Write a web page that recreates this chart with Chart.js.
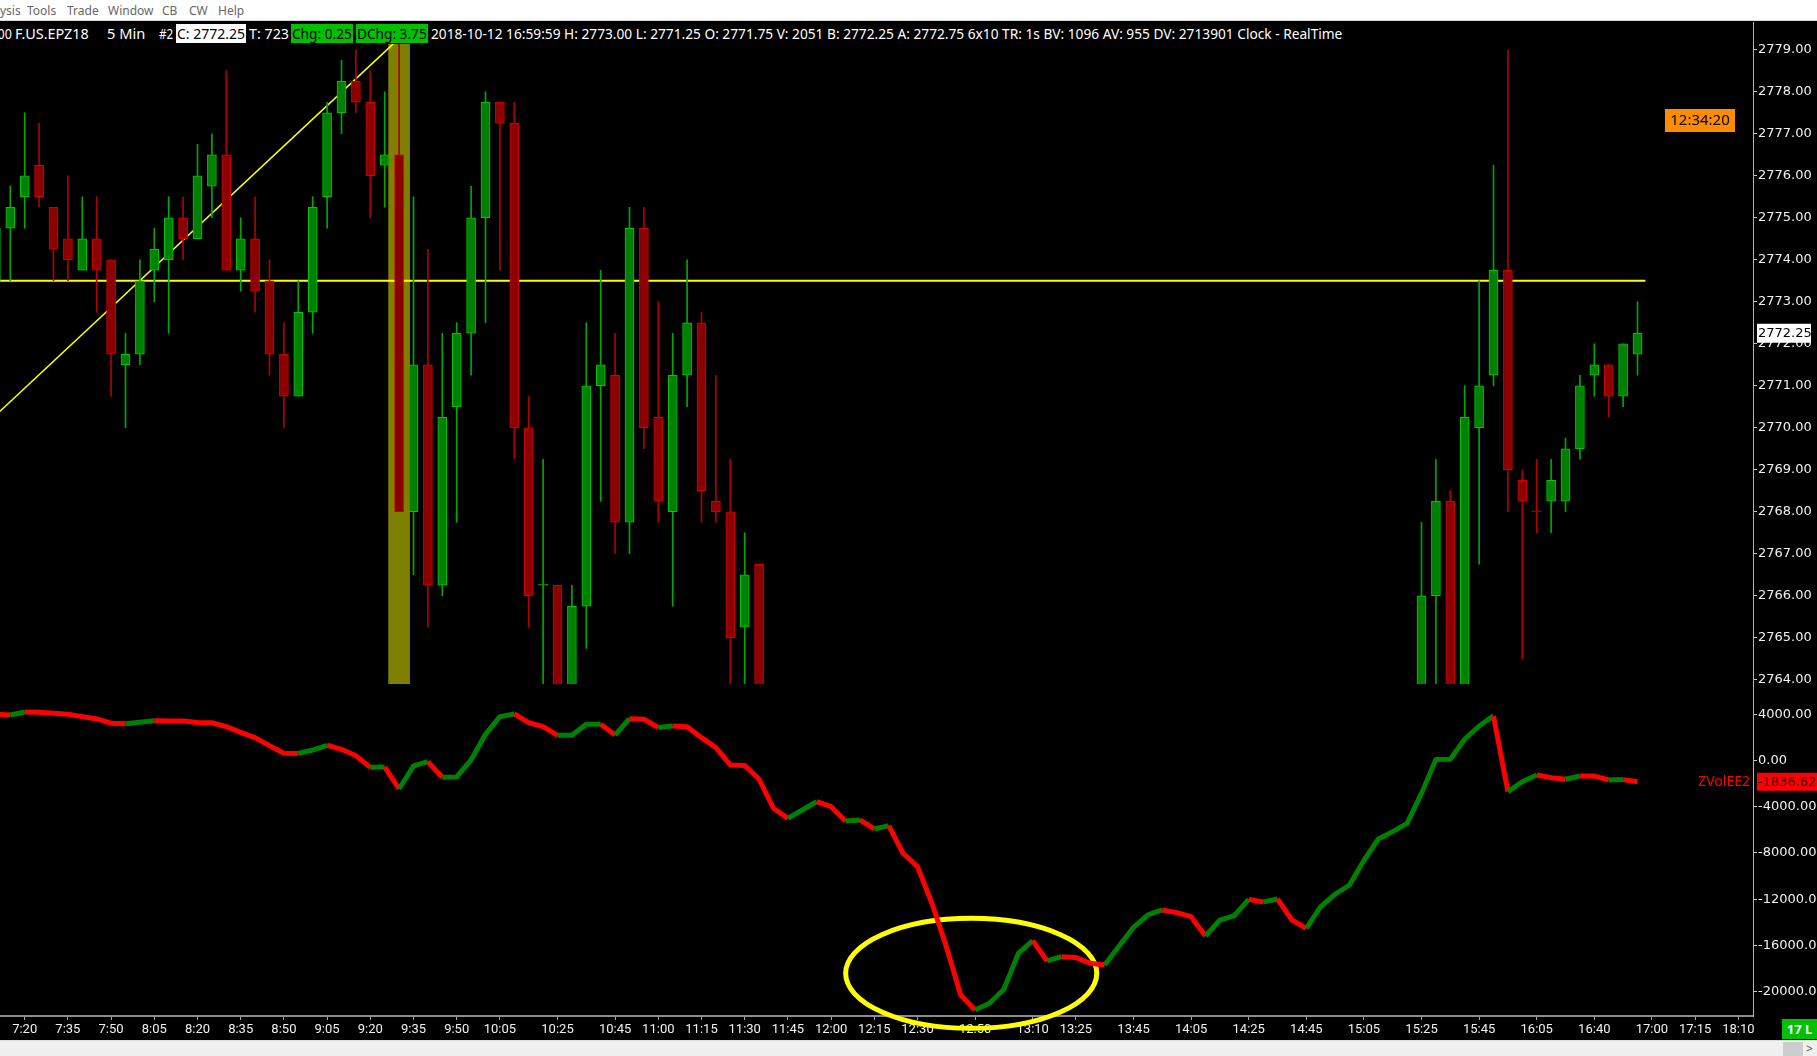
<!DOCTYPE html>
<html>
<head>
<meta charset="utf-8">
<title>F.US.EPZ18 5 Min</title>
<script src="https://cdn.jsdelivr.net/npm/chart.js@4.4.1/dist/chart.umd.min.js"></script>
<style>
  body { margin: 0; background: #000; width: 1817px; height: 1056px; overflow: hidden; position: relative; font-family: "Noto Sans", sans-serif; }
  #menu { position: absolute; left: 0; top: 0; width: 1817px; height: 20px; background: #fff; border-bottom: 1px solid #d6d6d6; }
  #menu span { position: absolute; top: 2px; font-size: 12px; color: #666; }
  #header { position: absolute; left: 0; top: 22px; width: 1753px; height: 22px; background: #000; z-index: 2; color: #fff; font-size: 15px; }
  #header span { position: absolute; top: 2px; height: 19px; line-height: 19px; white-space: nowrap; transform-origin: left center; }
  #header .box-w { background: #fff; color: #000; }
  #header .box-g { background: #00c000; color: #000; }
  canvas { position: absolute; left: 0; }
  #priceCanvas { top: 22px; }
  #indCanvas { top: 684px; }
  #bottom { position: absolute; left: 0; top: 1040px; width: 1817px; height: 16px; background: #f0f0f0; border-top: 1px solid #dcdcdc; }
  #thumb { position: absolute; left: 1783px; top: 1px; width: 20px; height: 14px; background: #cdcdcd; }
  #arrow { position: absolute; left: 1806px; top: -1px; font-size: 12px; color: #555; }
  #bars { position: absolute; left: 1782px; top: 1019px; width: 35px; height: 20px; background: #00c000; color: #fff; font: bold 13px "Noto Sans", sans-serif; line-height: 20px; text-align: center; z-index: 3; }
</style>
</head>
<body>
<div id="menu">
  <span style="left:0">ysis</span>
  <span style="left:27px">Tools</span>
  <span style="left:67px">Trade</span>
  <span style="left:108px">Window</span>
  <span style="left:162px">CB</span>
  <span style="left:189px">CW</span>
  <span style="left:218px">Help</span>
</div>
<div id="header">
  <span data-w="25" style="left:-13px">5.00</span>
  <span data-w="74" style="left:15px">F.US.EPZ18</span>
  <span data-w="38" style="left:107px">5 Min</span>
  <span data-w="14" style="left:159px">#2</span>
  <span data-w="70" class="box-w" style="left:176px;padding:0 1px">C: 2772.25</span>
  <span data-w="40" style="left:249px">T: 723</span>
  <span data-w="62" class="box-g" style="left:291px;padding:0 1px">Chg: 0.25</span>
  <span data-w="72" class="box-g" style="left:356px;padding:0 1px">DChg: 3.75</span>
  <span data-w="911" style="left:431px">2018-10-12 16:59:59 H: 2773.00 L: 2771.25 O: 2771.75 V: 2051 B: 2772.25 A: 2772.75 6x10 TR: 1s BV: 1096 AV: 955 DV: 2713901 Clock - RealTime</span>
</div>
<canvas id="priceCanvas" width="1817" height="662"></canvas>
<canvas id="indCanvas" width="1817" height="356"></canvas>
<div id="bars">17 L</div>
<div id="bottom"><div id="thumb"></div><div id="arrow">&gt;</div></div>

<script>
// 5 minute bars, first entry is bar -2 (07:10); bar 0 is 07:20
const firstBar = -2;

const opens = [
  2773.5, 2774.75, 2775.5, 2776.25, 2775.25, 2774.5, 2773.75, 2774.5, 2774.0, 2771.5,
  2771.75, 2773.75, 2774.0, 2775.0, 2774.5, 2775.75, 2776.5, 2773.75, 2774.5, 2773.5,
  2771.75, 2770.75, 2772.75, 2775.5, 2777.5, 2778.25, 2777.75, 2776.25, 2776.5, 2768.0,
  2771.5, 2766.25, 2770.5, 2772.25, 2775.0, 2777.75, 2777.25, 2770.0, 2766.25, 2766.25,
  2763.0, 2765.75, 2771.0, 2771.25, 2767.75, 2774.75, 2770.25, 2768.0, 2771.25, 2772.5,
  2768.25, 2768.0, 2765.25, 2766.75,
  null, null, null, null, null, null, null, null, null, null, null, null, null, null, null,
  null, null, null, null, null, null, null, null, null, null, null, null, null, null, null,
  null, null, null, null, null, null, null, null, null, null, null, null, null, null, null,
  2763.25, 2766.0, 2768.25, 2763.5, 2770.0, 2771.25, 2773.75, 2768.75, 2768.0, 2768.25,
  2768.25, 2769.5, 2771.25, 2771.5, 2770.75, 2771.75
];
const highs = [
  2775.0, 2775.75, 2777.5, 2777.25, 2775.25, 2776.0, 2775.5, 2775.5, 2774.0, 2772.25,
  2774.0, 2774.75, 2775.5, 2775.5, 2776.75, 2777.0, 2778.5, 2775.0, 2775.5, 2774.0,
  2772.5, 2773.5, 2775.5, 2777.75, 2778.75, 2779.0, 2778.5, 2778.0, 2779.25, 2775.5,
  2774.25, 2772.25, 2772.5, 2775.75, 2778.0, 2777.75, 2777.75, 2770.75, 2769.25, 2766.25,
  2766.25, 2772.5, 2773.75, 2772.25, 2775.25, 2775.25, 2773.0, 2772.25, 2774.0, 2772.75,
  2771.25, 2769.25, 2767.5, 2766.75,
  null, null, null, null, null, null, null, null, null, null, null, null, null, null, null,
  null, null, null, null, null, null, null, null, null, null, null, null, null, null, null,
  null, null, null, null, null, null, null, null, null, null, null, null, null, null, null,
  2767.75, 2769.25, 2768.5, 2771.0, 2773.5, 2776.25, 2779.0, 2769.0, 2769.25, 2769.25,
  2769.75, 2771.25, 2772.0, 2771.5, 2772.0, 2773.0
];
const lows = [
  2773.25, 2773.5, 2774.75, 2775.25, 2773.5, 2773.5, 2773.75, 2772.75, 2770.75, 2770.0,
  2771.5, 2773.0, 2772.25, 2774.0, 2774.5, 2775.0, 2773.75, 2773.25, 2772.75, 2771.25,
  2770.0, 2770.75, 2772.25, 2774.75, 2777.0, 2777.5, 2775.0, 2775.25, 2768.0, 2766.5,
  2765.25, 2766.0, 2767.75, 2771.25, 2772.5, 2773.75, 2769.25, 2765.25, 2763.5, 2762.75,
  2762.5, 2764.75, 2768.25, 2767.0, 2767.0, 2769.5, 2767.75, 2765.75, 2770.5, 2767.75,
  2767.75, 2763.75, 2763.75, 2762.5,
  null, null, null, null, null, null, null, null, null, null, null, null, null, null, null,
  null, null, null, null, null, null, null, null, null, null, null, null, null, null, null,
  null, null, null, null, null, null, null, null, null, null, null, null, null, null, null,
  2762.75, 2763.75, 2763.0, 2763.25, 2766.75, 2771.0, 2768.0, 2764.5, 2767.5, 2767.5,
  2768.0, 2769.25, 2770.75, 2770.25, 2770.5, 2771.25
];
const closes = [
  2774.75, 2775.25, 2776.0, 2775.5, 2774.25, 2774.0, 2774.5, 2773.75, 2771.75, 2771.75,
  2773.5, 2774.25, 2775.0, 2774.5, 2776.0, 2776.5, 2773.75, 2774.5, 2773.25, 2771.75,
  2770.75, 2772.75, 2775.25, 2777.5, 2778.25, 2777.75, 2776.0, 2776.5, 2768.0, 2771.5,
  2766.25, 2770.25, 2772.25, 2775.0, 2777.75, 2777.25, 2770.0, 2766.0, 2766.25, 2763.0,
  2765.75, 2771.0, 2771.5, 2767.75, 2774.75, 2770.0, 2768.25, 2771.25, 2772.5, 2768.5,
  2768.0, 2765.0, 2766.5, 2763.0,
  null, null, null, null, null, null, null, null, null, null, null, null, null, null, null,
  null, null, null, null, null, null, null, null, null, null, null, null, null, null, null,
  null, null, null, null, null, null, null, null, null, null, null, null, null, null, null,
  2766.0, 2768.25, 2763.5, 2770.25, 2771.0, 2773.75, 2769.0, 2768.25, 2768.0, 2768.75,
  2769.5, 2771.0, 2771.5, 2770.75, 2772.0, 2772.25
];

// ZVolEE2 indicator, one value per bar
const zvol = [
  4000, 3940, 4200, 4170, 4090, 4000, 3800, 3600, 3230, 3190,
  3310, 3450, 3430, 3420, 3290, 3270, 2930, 2440, 1980, 1290,
  630, 610, 910, 1320, 970, 420, -590, -560, -2460, -470,
  -100, -1450, -1420, 50, 2270, 3800, 4030, 3280, 2930, 2180,
  2190, 3135, 3140, 2210, 3620, 3570, 2850, 2990, 2930, 1980,
  1120, -380, -420, -1620, -4130, -5000, -4280, -3560, -3990, -5230,
  -5140, -5920, -5630, -8030, -9180, -12350, -16100, -20280, -21580, -21000,
  -19790, -16680, -15580, -17340, -16970, -17050, -17540, -17690, -16040, -14430,
  -13360, -12930, -13160, -13510, -15180, -13800, -13420, -12010, -12240, -11980,
  -13800, -14520, -12640, -11570, -10770, -8650, -6790, -6150, -5430, -2840,
  100, 110, 1840, 2990, 3860, -2690, -1830, -1250, -1480, -1620,
  -1340, -1345, -1680, -1650, -1836.62
];

const timeTickIdx = [0, 3, 6, 9, 12, 15, 18, 21, 24, 27, 30, 33, 37, 41, 44, 47, 50, 53, 56, 59,
  62, 66, 70, 73, 77, 81, 85, 89, 93, 97, 101, 105, 109, 113, 116, 119];
const timeTickLabels = ['7:20', '7:35', '7:50', '8:05', '8:20', '8:35', '8:50', '9:05', '9:20', '9:35',
  '9:50', '10:05', '10:25', '10:45', '11:00', '11:15', '11:30', '11:45', '12:00', '12:15',
  '12:30', '12:50', '13:10', '13:25', '13:45', '14:05', '14:25', '14:45', '15:05', '15:25',
  '15:45', '16:05', '16:40', '17:00', '17:15', '18:10'];

const priceTicks = [2779, 2778, 2777, 2776, 2775, 2774, 2773, 2772, 2771, 2770, 2769, 2768, 2767, 2766, 2765, 2764];
const zvolTicks = [4000, 0, -4000, -8000, -12000, -16000, -20000];

// drawings on the chart
const highlightBars = [26];
const levelLine = { from: -2, to: 112.55, price: 2773.5 };
const trendLine = [{ x: -2, y: 2770.30 }, { x: 26, y: 2779.27 }];
const circleNote = { x: 65.73, y: -18410, rxBars: 8.72, ryValue: 4760 };
const countdown = '12:34:20';

// visible ranges
const xMin = -1.715, xMax = 120.02;
const priceMin = 2763.9, priceMax = 2779.66;
const zvolMin = -22103, zvolMax = 6622;

const GREEN_FILL = '#008000', GREEN_EDGE = '#00c800', GREEN_WICK = '#00a800';
const RED_FILL = '#8b0000', RED_EDGE = '#d40000', RED_WICK = '#b00000';

// build candle items
const bodies = [], wicks = [];
opens.forEach((o, k) => {
  if (o === null) return;
  const c = closes[k];
  let up = c > o;
  if (c === o) up = k > 0 && closes[k - 1] !== null ? c >= closes[k - 1] : true;
  const x = firstBar + k;
  bodies.push({ x: x, y: [o, c], up: up });
  wicks.push({ x: x, y: [lows[k], highs[k]], up: up });
});
const lastClose = closes[closes.length - 1];
const lastZvol = zvol[zvol.length - 1];

const axisFont = { family: 'DejaVu Sans', size: 13 };

// no extra room for edge labels, the panels are packed tight
function noPadding(s) {
  s.paddingTop = 0;
  s.paddingBottom = 0;
  s.paddingLeft = 0;
  s.paddingRight = 0;
}

function rightAxis(min, max, tickValues) {
  return {
    position: 'right',
    min: min,
    max: max,
    afterFit: (s) => { s.width = 64; noPadding(s); },
    afterBuildTicks: (s) => { s.ticks = tickValues.map(v => ({ value: v })); },
    ticks: {
      color: '#f0f0f0',
      font: axisFont,
      padding: 1,
      callback: (v) => Number(v).toFixed(2)
    },
    grid: { drawOnChartArea: false, drawTicks: true, tickLength: 4, color: '#c8c8c8' },
    border: { display: true, color: '#b4b4b4', width: 1 }
  };
}

const priceOverlay = {
  id: 'priceOverlay',
  afterDraw(chart) {
    const { ctx, chartArea, scales } = chart;
    const py = scales.y.getPixelForValue(lastClose);
    ctx.save();
    ctx.fillStyle = '#ffffff';
    ctx.fillRect(chartArea.right + 4, py - 9.5, 54, 19);
    ctx.fillStyle = '#000';
    ctx.font = '13px "DejaVu Sans"';
    ctx.textBaseline = 'middle';
    ctx.fillText(lastClose.toFixed(2), chartArea.right + 5, py + 0.5);
    // bar countdown
    ctx.fillStyle = '#ff8c00';
    ctx.fillRect(chartArea.right - 88, 87, 70, 23);
    ctx.fillStyle = '#000';
    ctx.font = '15px "Noto Sans"';
    ctx.textAlign = 'center';
    ctx.fillText(countdown, chartArea.right - 53, 99);
    ctx.restore();
  }
};

new Chart(document.getElementById('priceCanvas'), {
  type: 'bar',
  data: {
    datasets: [
      {
        type: 'bar',
        data: highlightBars.map(x => ({ x: x, y: [priceMin, priceMax] })),
        backgroundColor: '#808000',
        barThickness: 21,
        grouped: false,
        order: 4
      },
      {
        type: 'line',
        data: [{ x: levelLine.from, y: levelLine.price }, { x: levelLine.to, y: levelLine.price }],
        borderColor: '#ffff00',
        borderWidth: 2,
        pointRadius: 0,
        order: 3
      },
      {
        type: 'line',
        data: trendLine,
        borderColor: '#ffff00',
        borderWidth: 1.5,
        pointRadius: 0,
        order: 3
      },
      {
        type: 'bar',
        data: wicks,
        backgroundColor: (c) => (c.raw && c.raw.up ? GREEN_WICK : RED_WICK),
        barThickness: 1,
        grouped: false,
        order: 2
      },
      {
        type: 'bar',
        data: bodies,
        backgroundColor: (c) => (c.raw && c.raw.up ? GREEN_FILL : RED_FILL),
        borderColor: (c) => (c.raw && c.raw.up ? GREEN_EDGE : RED_EDGE),
        borderWidth: 1,
        borderSkipped: false,
        minBarLength: 1,
        barThickness: 9,
        grouped: false,
        order: 1
      }
    ]
  },
  options: {
    responsive: false,
    animation: false,
    layout: { padding: 0, autoPadding: false },
    plugins: { legend: { display: false }, tooltip: { enabled: false } },
    scales: {
      x: { type: 'linear', min: xMin, max: xMax, offset: false, display: false },
      y: rightAxis(priceMin, priceMax, priceTicks)
    }
  },
  plugins: [priceOverlay]
});

const zvolOverlay = {
  id: 'zvolOverlay',
  beforeDatasetsDraw(chart) {
    const { ctx, scales } = chart;
    const cx = scales.x.getPixelForValue(circleNote.x);
    const cy = scales.y.getPixelForValue(circleNote.y);
    const rx = scales.x.getPixelForValue(circleNote.x + circleNote.rxBars) - cx;
    const ry = scales.y.getPixelForValue(circleNote.y - circleNote.ryValue) - cy;
    ctx.save();
    ctx.strokeStyle = '#ffff00';
    ctx.lineWidth = 5;
    ctx.beginPath();
    ctx.ellipse(cx, cy, rx, ry, 0, 0, Math.PI * 2);
    ctx.stroke();
    ctx.restore();
  },
  afterDraw(chart) {
    const { ctx, chartArea, scales } = chart;
    const py = scales.y.getPixelForValue(lastZvol);
    ctx.save();
    ctx.fillStyle = '#ff0000';
    ctx.fillRect(chartArea.right + 4, py - 9, 60, 18);
    ctx.fillStyle = '#3a0000';
    ctx.font = '13px "DejaVu Sans"';
    ctx.textBaseline = 'middle';
    ctx.fillText(lastZvol.toFixed(2), chartArea.right + 5, py + 0.5);
    ctx.fillStyle = '#ff0000';
    ctx.font = '14px "Noto Sans"';
    ctx.textAlign = 'right';
    ctx.fillText('ZVolEE2', chartArea.right - 3, py + 0.5);
    ctx.restore();
  }
};

new Chart(document.getElementById('indCanvas'), {
  type: 'line',
  data: {
    datasets: [{
      data: zvol.map((v, k) => ({ x: firstBar + k, y: v })),
      borderWidth: 5,
      borderColor: '#ff0000',
      borderJoinStyle: 'round',
      pointRadius: 0,
      tension: 0,
      segment: {
        borderColor: (c) => (c.p1.parsed.y >= c.p0.parsed.y ? '#008000' : '#ff0000')
      }
    }]
  },
  options: {
    responsive: false,
    animation: false,
    layout: { padding: 0, autoPadding: false },
    plugins: { legend: { display: false }, tooltip: { enabled: false } },
    scales: {
      x: {
        type: 'linear',
        min: xMin,
        max: xMax,
        offset: false,
        afterFit: (s) => { s.height = 24; noPadding(s); },
        afterBuildTicks: (s) => { s.ticks = timeTickIdx.map(v => ({ value: v })); },
        ticks: {
          color: '#f0f0f0',
          font: { family: 'Roboto', size: 13 },
          padding: 2,
          maxRotation: 0,
          autoSkip: false,
          callback: (v, i) => timeTickLabels[i]
        },
        grid: { drawOnChartArea: false, drawTicks: true, tickLength: 4, color: '#a0a0a0' },
        border: { display: true, color: '#8c8c8c', width: 2 }
      },
      y: rightAxis(zvolMin, zvolMax, zvolTicks)
    }
  },
  plugins: [zvolOverlay]
});

// squeeze header texts into their slots
document.querySelectorAll('#header span').forEach((el) => {
  const w = parseFloat(el.dataset.w);
  el.style.transform = 'scaleX(' + (w / el.offsetWidth) + ')';
});
</script>
</body>
</html>
